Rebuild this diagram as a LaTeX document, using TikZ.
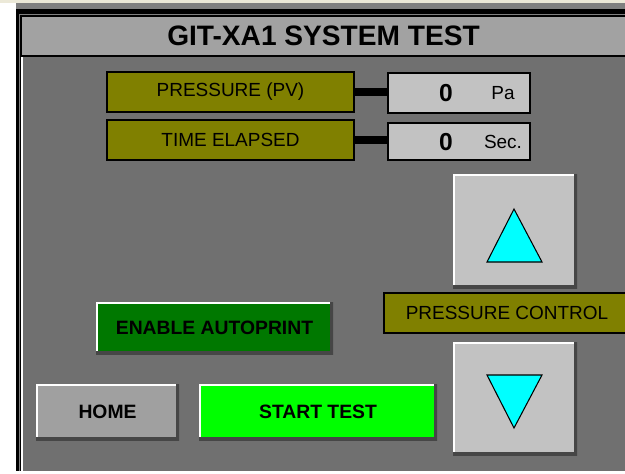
\documentclass[tikz,border=0pt]{standalone}
\usepackage{fontspec}
\setmainfont{Liberation Sans}
\usetikzlibrary{fit, calc}
\definecolor{panelgray}{RGB}{112,112,112}
\definecolor{titlegray}{RGB}{162,162,162}
\definecolor{topbeige}{RGB}{236,233,216}
\definecolor{tagolive}{RGB}{128,128,0}
\definecolor{readgray}{RGB}{194,194,194}
\definecolor{darkbtn}{RGB}{0,120,0}
\definecolor{startgreen}{RGB}{0,255,0}
\definecolor{homegray}{RGB}{160,160,160}
\definecolor{btnshadow}{RGB}{70,70,70}
\definecolor{arrowcyan}{RGB}{0,255,255}

\tikzset{
  box/.style={inner sep=0pt, outer sep=0pt},
  tagfont/.style={font=\fontsize{10.8}{12}\selectfont, inner sep=0pt},
  btnfont/.style={font=\fontsize{11}{13}\selectfont\bfseries, inner sep=0pt},
  tag/.style={box, fill=tagolive, draw=black, line width=0.9pt,
    label={[tagfont]center:#1}},
  readout/.style={box, fill=readgray, draw=black, line width=0.9pt},
  bevel/.style={box, path picture={
    \draw[white, line width=2.4pt] (path picture bounding box.south west)
      -- (path picture bounding box.north west) -- (path picture bounding box.north east);
    \draw[btnshadow, line width=3pt] (path picture bounding box.north east)
      -- (path picture bounding box.south east) -- (path picture bounding box.south west);
  }},
  btn/.style={bevel, label={[btnfont]center:#1}},
  readnum/.style={font=\fontsize{14}{16}\selectfont\bfseries},
  unit/.style={font=\fontsize{10.8}{12}\selectfont},
  link/.style={line width=4.5pt},
  arrowtri/.style={fill=arrowcyan, draw=black, line width=0.6pt, line join=miter}
}

\begin{document}
\begin{tikzpicture}[x=0.02cm, y=-0.02cm]
  \useasboundingbox (0,0) rectangle (625,473);

  % window frame
  \fill[white] (0,0) rectangle (625,473);
  \fill[topbeige] (0,0) rectangle (625,3);
  \fill[gray] (16,3) rectangle (625,9);
  \fill[black] (16,9) rectangle (625,471);
  \draw[gray, line width=0.5pt] (19.5,471) -- (19.5,14.5) -- (625,14.5);
  \fill[panelgray] (21,57) rectangle (625,471);
  \fill[white] (21,57) rectangle (22.5,471);

  % title bar
  \node[box, fill=titlegray, fit={(22,17)(625,55)},
    label={[font=\fontsize{16}{18}\selectfont\bfseries]center:GIT-XA1 SYSTEM TEST}] (title) {};

  % readouts
  \node[tag=PRESSURE (PV), fit={(107,72)(354,112)}] (pv) {};
  \node[tag=TIME ELAPSED, fit={(107,120)(354,160)}] (elapsed) {};
  \node[readout, fit={(388,73)(530,113)}] (pvval) {};
  \node[readout, fit={(388,123)(530,160)}] (elapsedval) {};
  \draw[link] (pv.east) -- (pv.east -| pvval.west);
  \draw[link] (elapsed.east) -- (elapsed.east -| elapsedval.west);

  \node[readnum] (pvnum) at (446,93) {0};
  \node[unit] (pvunit) at (503,93) {Pa};
  \node[readnum] (elapsednum) at (446,142) {0};
  \node[unit] (elapsedunit) at (503,142) {Sec.};

  % pressure control
  \node[bevel, fill=readgray, fit={(453,174)(577,288)}] (up) {};
  \node[tag=PRESSURE CONTROL, fit={(384,293)(630,333)}] (ctrl) {};
  \node[bevel, fill=readgray, fit={(453,342)(577,455)}] (down) {};
  \draw[arrowtri] (487,262) -- (514,209) -- (542,262) -- cycle;
  \draw[arrowtri] (487,375) -- (514,428) -- (542,375) -- cycle;

  % buttons
  \node[btn=ENABLE AUTOPRINT, fill=darkbtn, fit={(96,302)(333,354)}] (autoprint) {};
  \node[btn=HOME, fill=homegray, fit={(36,384)(179,440)}] (home) {};
  \node[btn=START TEST, fill=startgreen, fit={(199,384)(437,440)}] (start) {};
\end{tikzpicture}
\end{document}
